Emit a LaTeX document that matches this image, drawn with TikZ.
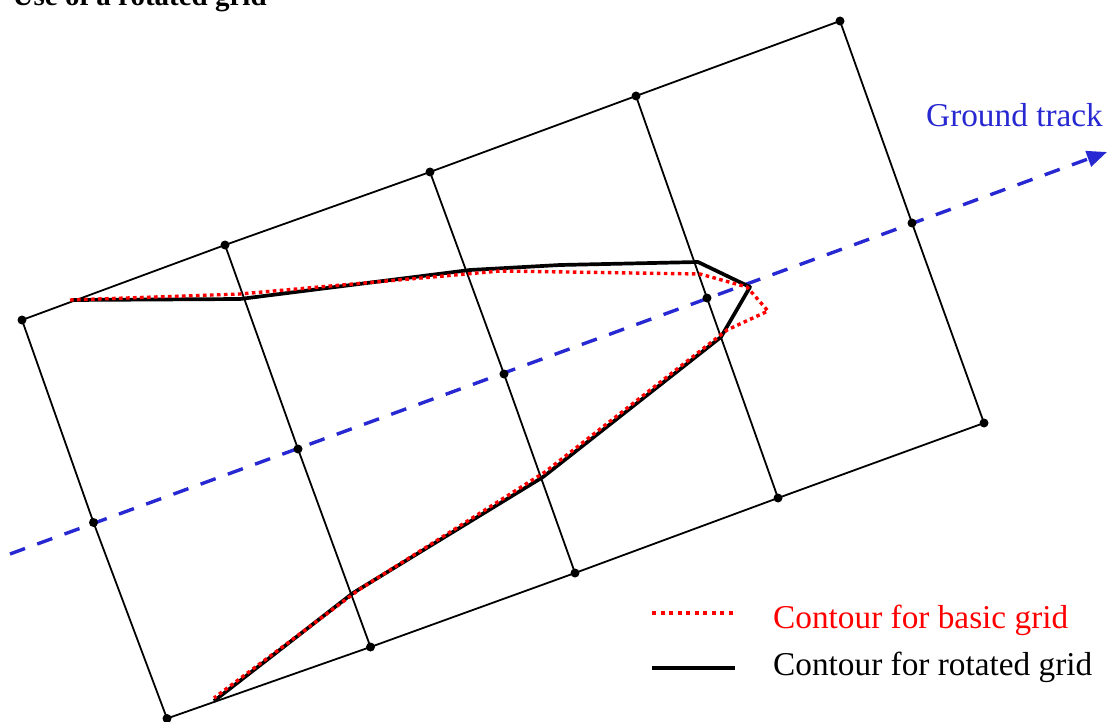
\documentclass[tikz,border=0pt]{standalone}
\usepackage{fontspec}
\setmainfont{Liberation Serif}
\usetikzlibrary{arrows.meta}
\definecolor{trackblue}{RGB}{40,40,210}
\definecolor{contred}{RGB}{255,0,0}
\begin{document}
\begin{tikzpicture}[x=1pt,y=-1pt,
  gridline/.style={line width=1.8pt,black},
  griddot/.style={circle,fill=black,inner sep=0pt,minimum size=9pt},
  rotcontour/.style={line width=3.7pt,black,line join=round},
  basiccontour/.style={line width=3.4pt,contred,dash pattern=on 3.6pt off 3.4pt,line join=round},
  track/.style={line width=3.4pt,trackblue,dash pattern=on 16pt off 13pt,-{Triangle[length=20pt,width=16pt]}},
  lbl/.style={anchor=base west,inner sep=0pt,font=\fontsize{33.3}{38}\selectfont}]
\useasboundingbox (0,0) rectangle (1108,722);
% title (cut off by the top border, as in the reference)
\node[anchor=base west,inner sep=0pt,font=\bfseries\fontsize{29}{34}\selectfont] (title) at (12.5,6) {Use of a rotated grid};
% grid points
\coordinate (t0) at (22,320);   \coordinate (t1) at (225,245);   \coordinate (t2) at (430,172);
\coordinate (t3) at (636,96);   \coordinate (t4) at (840,21);
\coordinate (m0) at (93.5,522.5); \coordinate (m1) at (298,449); \coordinate (m2) at (504,374);
\coordinate (m3) at (707,298);  \coordinate (m4) at (912,223);
\coordinate (b0) at (167,718.5); \coordinate (b1) at (370.5,647); \coordinate (b2) at (575,573);
\coordinate (b3) at (778,498);  \coordinate (b4) at (984,423);
% grid lines
\draw[gridline] (t0) -- (t1) -- (t2) -- (t3) -- (t4);
\draw[gridline] (b0) -- (b1) -- (b2) -- (b3) -- (b4);
\foreach \i in {0,...,4} { \draw[gridline] (t\i) -- (m\i) -- (b\i); }
% ground track
\coordinate (trs) at (10,554);
\coordinate (tre) at (1107,152);
\draw[track] (trs) -- (tre);
\node[lbl,text=trackblue] (gt) at (926,127) {Ground track};
% grid dots
\foreach \r in {t,m,b} { \foreach \i in {0,...,4} { \node[griddot] at (\r\i) {}; } }
% contour for rotated grid
\coordinate (k1) at (72,300); \coordinate (k2) at (240,299); \coordinate (k3) at (470,270);
\coordinate (k4) at (560,265); \coordinate (k5) at (698,262); \coordinate (k6) at (750,287);
\coordinate (k7) at (721,337); \coordinate (k8) at (543,477); \coordinate (k9) at (353,593);
\coordinate (k10) at (214,701);
\draw[rotcontour] (k1) -- (k2) -- (k3) -- (k4) -- (k5) -- (k6) -- (k7) -- (k8) -- (k9) -- (k10);
% contour for basic grid
\coordinate (r1) at (70,300); \coordinate (r2) at (240,294); \coordinate (r3) at (500,271);
\coordinate (r4) at (700,274); \coordinate (r5) at (747,287); \coordinate (r6) at (768,311);
\coordinate (r7) at (727,330); \coordinate (r8) at (640,398); \coordinate (r9) at (545,472);
\coordinate (r10) at (360,589); \coordinate (r11) at (214,698);
\draw[basiccontour] (r1) -- (r2) -- (r3) -- (r4) -- (r5) -- (r6) -- (r7) -- (r8) -- (r9) -- (r10) -- (r11);
% legend
\coordinate (l1a) at (652,613); \coordinate (l1b) at (735,613);
\coordinate (l2a) at (652,668); \coordinate (l2b) at (735,668);
\draw[basiccontour,dash pattern=on 4pt off 4.5pt] (l1a) -- (l1b);
\draw[rotcontour] (l2a) -- (l2b);
\node[lbl,text=contred] (leg1) at (773,628) {Contour for basic grid};
\node[lbl] (leg2) at (773,675) {Contour for rotated grid};
\end{tikzpicture}
\end{document}
